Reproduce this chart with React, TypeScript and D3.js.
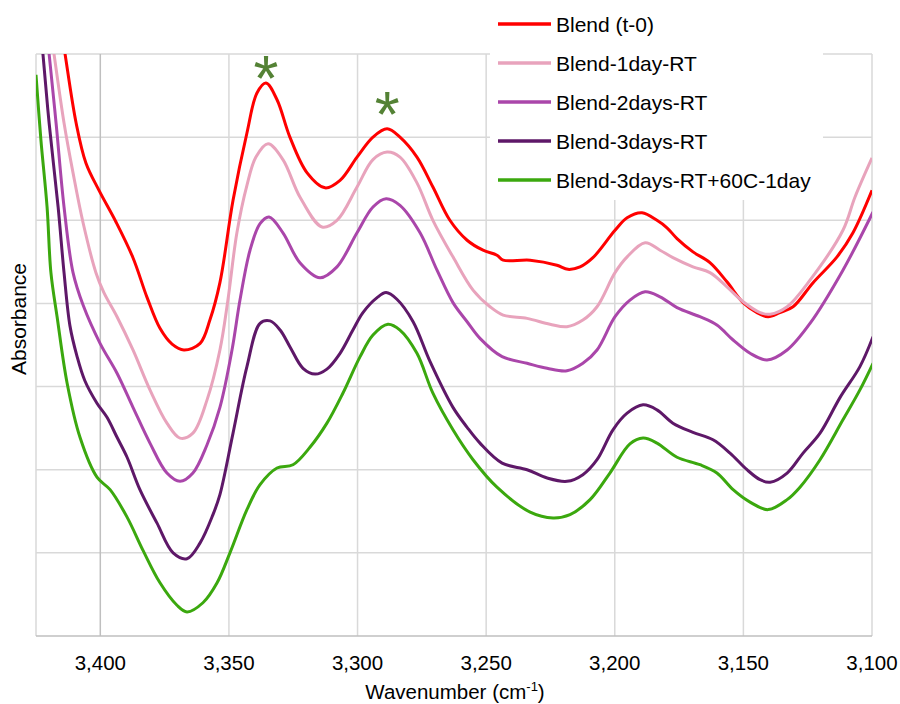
import React from "react";
import * as d3 from "d3";

const seriesNames = [
  "Blend (t-0)",
  "Blend-1day-RT",
  "Blend-2days-RT",
  "Blend-3days-RT",
  "Blend-3days-RT+60C-1day",
];
const seriesColors = ["#FF0000", "#E8A3BC", "#AA46AA", "#5E1868", "#3BA80E"];

const blendT0: [number, number][] = [
  [3415.7, 0.741], [3413.7, 0.7], [3409.4, 0.617], [3405.6, 0.569], [3400.5, 0.536],
  [3393.9, 0.498], [3387.3, 0.455], [3381.8, 0.407], [3376.8, 0.37], [3372.1, 0.351],
  [3367.5, 0.344], [3361.2, 0.352], [3357.4, 0.38], [3353.5, 0.425],
  [3348.4, 0.524], [3343.0, 0.605], [3339.1, 0.653], [3335.6, 0.665], [3331.3, 0.645],
  [3326.3, 0.6], [3319.6, 0.557], [3312.6, 0.539], [3306.8, 0.548], [3300.2, 0.576],
  [3294.0, 0.6], [3288.5, 0.61], [3283.5, 0.6], [3276.9, 0.576], [3270.7, 0.54],
  [3264.1, 0.5], [3257.4, 0.476], [3251.2, 0.464], [3245.8, 0.458], [3243.4, 0.452],
  [3232.9, 0.452], [3222.5, 0.446], [3218.2, 0.441], [3213.5, 0.444], [3208.5, 0.455],
  [3199.9, 0.488], [3195.2, 0.503], [3189.4, 0.509], [3183.6, 0.5], [3179.7, 0.491],
  [3175.8, 0.478], [3169.6, 0.462], [3163.0, 0.449], [3156.4, 0.426], [3150.1, 0.401],
  [3144.7, 0.389], [3140.4, 0.384], [3135.8, 0.389], [3130.7, 0.396], [3122.9, 0.425],
  [3113.6, 0.456], [3107.4, 0.485], [3100.0, 0.536],
];

const blend1day: [number, number][] = [
  [3419.9, 0.741], [3418.0, 0.7], [3414.1, 0.617], [3410.6, 0.557], [3406.7, 0.497],
  [3401.7, 0.437], [3398.6, 0.413], [3393.5, 0.384], [3387.3, 0.344], [3380.7, 0.296],
  [3374.1, 0.256], [3369.0, 0.238], [3364.0, 0.244], [3358.5, 0.284], [3353.5, 0.344],
  [3350.4, 0.404], [3346.9, 0.485], [3343.0, 0.542], [3339.5, 0.576], [3334.8, 0.592],
  [3329.0, 0.573], [3322.4, 0.528], [3313.8, 0.492], [3308.0, 0.5], [3300.2, 0.54],
  [3294.0, 0.573], [3288.5, 0.582], [3283.5, 0.576], [3276.9, 0.545], [3270.7, 0.5],
  [3262.9, 0.456], [3255.1, 0.416], [3248.5, 0.396], [3243.4, 0.386], [3234.1, 0.382],
  [3225.2, 0.375], [3218.6, 0.372], [3212.4, 0.38], [3206.9, 0.396], [3199.9, 0.437],
  [3195.2, 0.456], [3188.2, 0.473], [3182.4, 0.464], [3177.4, 0.455], [3169.6, 0.444],
  [3163.0, 0.437], [3156.4, 0.42], [3150.1, 0.402], [3143.5, 0.389], [3139.6, 0.387],
  [3133.0, 0.396], [3124.1, 0.428], [3111.3, 0.488], [3106.6, 0.528], [3100.0, 0.575],
];

const blend2days: [number, number][] = [
  [3421.3, 0.741], [3419.9, 0.7], [3417.2, 0.617], [3414.1, 0.516], [3410.6, 0.437],
  [3406.7, 0.398], [3400.1, 0.352], [3393.5, 0.316], [3387.3, 0.275],
  [3380.7, 0.232], [3374.1, 0.196], [3369.0, 0.186], [3364.0, 0.196], [3358.5, 0.23],
  [3353.5, 0.275], [3348.8, 0.344], [3345.7, 0.404], [3341.8, 0.464], [3337.9, 0.496],
  [3334.4, 0.504], [3329.0, 0.485], [3322.4, 0.449], [3314.6, 0.431], [3308.0, 0.444],
  [3300.2, 0.485], [3294.0, 0.516], [3288.9, 0.526], [3283.5, 0.518], [3275.7, 0.485],
  [3269.1, 0.44], [3262.9, 0.401], [3257.4, 0.378], [3252.4, 0.358], [3243.8, 0.336],
  [3234.1, 0.328], [3226.3, 0.322], [3218.6, 0.319], [3212.4, 0.328], [3206.9, 0.344],
  [3199.9, 0.384], [3194.1, 0.404], [3188.2, 0.414], [3182.4, 0.408], [3175.8, 0.395],
  [3166.9, 0.384], [3160.3, 0.374], [3154.0, 0.356], [3147.4, 0.34], [3140.8, 0.332],
  [3133.0, 0.344], [3124.1, 0.376], [3111.3, 0.44], [3099.6, 0.51],
];

const blend3days: [number, number][] = [
  [3423.4, 0.741], [3422.3, 0.7], [3419.9, 0.617], [3416.4, 0.516], [3414.1, 0.437],
  [3411.8, 0.373], [3409.1, 0.337], [3406.0, 0.307], [3401.3, 0.28], [3397.4, 0.263], [3393.5, 0.239],
  [3389.6, 0.215], [3384.6, 0.176], [3378.0, 0.136], [3371.7, 0.1], [3366.3, 0.093],
  [3361.2, 0.112], [3356.2, 0.146], [3353.5, 0.17], [3348.4, 0.244], [3343.0, 0.324],
  [3337.9, 0.376], [3334.0, 0.379], [3330.1, 0.368], [3326.3, 0.348], [3321.2, 0.322],
  [3316.5, 0.315], [3311.9, 0.321], [3306.8, 0.34], [3301.8, 0.368], [3297.9, 0.389],
  [3292.4, 0.407], [3288.9, 0.413], [3284.7, 0.405], [3278.4, 0.378], [3271.8, 0.33],
  [3262.9, 0.275], [3257.4, 0.251], [3252.4, 0.232], [3243.8, 0.208], [3234.1, 0.2],
  [3226.3, 0.19], [3218.6, 0.186], [3212.4, 0.194], [3206.9, 0.212], [3200.7, 0.248],
  [3195.2, 0.268], [3189.0, 0.278], [3183.6, 0.272], [3177.4, 0.256], [3169.6, 0.245],
  [3161.8, 0.236], [3155.2, 0.22], [3148.6, 0.2], [3143.5, 0.188], [3139.6, 0.185],
  [3133.0, 0.196], [3126.8, 0.22], [3120.2, 0.244], [3112.4, 0.287], [3104.7, 0.324],
  [3099.6, 0.36],
];

const blend3days60C: [number, number][] = [
  [3425.0, 0.675], [3423.1, 0.597], [3420.7, 0.516], [3419.2, 0.437], [3416.8, 0.384],
  [3412.9, 0.304], [3407.9, 0.239], [3401.3, 0.191], [3396.2, 0.176], [3389.6, 0.143],
  [3383.4, 0.103], [3376.8, 0.064], [3370.2, 0.037], [3366.3, 0.029], [3360.1, 0.04],
  [3354.6, 0.064], [3349.6, 0.1], [3343.0, 0.152], [3337.9, 0.182], [3331.3, 0.202],
  [3325.1, 0.206], [3318.5, 0.227], [3311.9, 0.256], [3305.7, 0.292], [3299.0, 0.336],
  [3294.0, 0.362], [3288.2, 0.375], [3283.5, 0.368], [3276.9, 0.34], [3270.7, 0.292],
  [3262.9, 0.248], [3255.1, 0.212], [3245.8, 0.179], [3232.9, 0.149], [3224.0, 0.142],
  [3217.4, 0.146], [3209.6, 0.164], [3201.9, 0.196], [3194.1, 0.231], [3189.0, 0.238],
  [3183.6, 0.232], [3175.8, 0.215], [3166.9, 0.206], [3160.3, 0.196], [3154.0, 0.176],
  [3147.4, 0.161], [3140.4, 0.152], [3133.0, 0.164], [3128.0, 0.179], [3120.2, 0.212],
  [3111.3, 0.26], [3104.7, 0.296], [3099.6, 0.328],
];

const allSeries = [blendT0, blend1day, blend2days, blend3days, blend3days60C];

const xTicks = [3400, 3350, 3300, 3250, 3200, 3150, 3100];
const yGridValues = [0.1, 0.2, 0.3, 0.4, 0.5, 0.6, 0.7];
const peakMarks = [
  { w: 3335.6, a: 0.683 },
  { w: 3288.5, a: 0.64 },
];

const W = 900;
const H = 704;
const left = 36;
const right = 872;
const top = 54;
const bottom = 636;
const FONT = "'Liberation Sans', Arial, sans-serif";

export default function App() {
  const x = d3.scaleLinear().domain([3425, 3100]).range([left, right]);
  const y = d3.scaleLinear().domain([0, 0.7]).range([bottom, top]);
  const line = d3
    .line<[number, number]>()
    .x((d) => x(d[0]))
    .y((d) => y(d[1]))
    .curve(d3.curveCatmullRom.alpha(0.5));
  const fmt = d3.format(",");

  return (
    <svg
      width={W}
      height={H}
      style={{ position: "absolute", left: 0, top: 0, background: "#fff" }}
      fontFamily={FONT}
    >
      <defs>
        <clipPath id="plotClip">
          <rect x={left} y={top} width={right - left} height={bottom - top} />
        </clipPath>
      </defs>
      <rect x={0} y={0} width={W} height={H} fill="#fff" />
      {yGridValues.map((v) => (
        <line
          key={"h" + v}
          x1={left}
          x2={right}
          y1={y(v)}
          y2={y(v)}
          stroke="#D9D9D9"
          strokeWidth={1.5}
        />
      ))}
      {xTicks.map((t) => (
        <line
          key={"v" + t}
          x1={x(t)}
          x2={x(t)}
          y1={top}
          y2={bottom}
          stroke={t === 3400 ? "#BFBFBF" : "#D9D9D9"}
          strokeWidth={1.5}
        />
      ))}
      <line x1={left} x2={left} y1={top} y2={bottom} stroke="#D9D9D9" strokeWidth={1.5} />
      <line x1={left} x2={right} y1={bottom} y2={bottom} stroke="#BFBFBF" strokeWidth={1.5} />

      <rect x={490} y={0} width={333} height={200} fill="#fff" />

      <g clipPath="url(#plotClip)">
        {allSeries.map((s, i) => (
          <path
            key={seriesNames[i]}
            d={line(s) || ""}
            fill="none"
            stroke={seriesColors[i]}
            strokeWidth={3}
            strokeLinejoin="round"
          />
        ))}
      </g>

      {peakMarks.map((p, i) => (
        <text
          key={"ast" + i}
          x={x(p.w)}
          y={y(p.a) + 33}
          textAnchor="middle"
          fontSize={64}
          fill="#548235"
        >
          *
        </text>
      ))}

      {seriesNames.map((n, i) => {
        const ly = 24 + i * 39;
        return (
          <g key={"lg" + n}>
            <line x1={498} x2={551} y1={ly} y2={ly} stroke={seriesColors[i]} strokeWidth={3.5} />
            <text x={556} y={ly + 7.5} fontSize={21} fill="#000">
              {n}
            </text>
          </g>
        );
      })}

      {xTicks.map((t) => (
        <text key={"t" + t} x={x(t)} y={670} textAnchor="middle" fontSize={20.5} fill="#000">
          {fmt(t)}
        </text>
      ))}

      <text x={455} y={699} textAnchor="middle" fontSize={20.5} fill="#000">
        Wavenumber (cm
        <tspan fontSize={13} dy={-8}>-1</tspan>
        <tspan dy={8}>)</tspan>
      </text>

      <text
        transform={`translate(26, 319) rotate(-90)`}
        textAnchor="middle"
        fontSize={21}
        fill="#000"
      >
        Absorbance
      </text>
    </svg>
  );
}
